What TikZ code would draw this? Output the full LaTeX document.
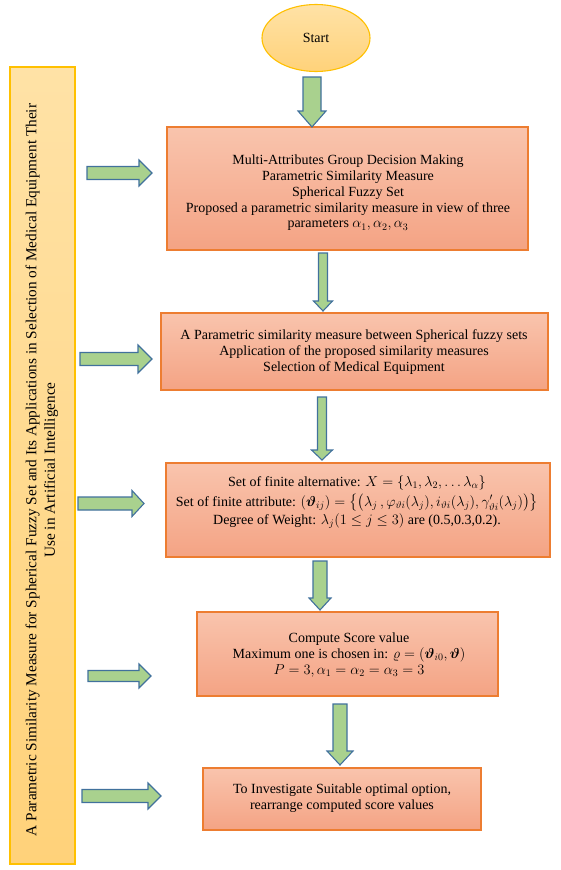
\documentclass[tikz,border=0pt]{standalone}
\usepackage{amsmath,bm}
\usepackage{fontspec}
\setmainfont{Liberation Serif}
\usetikzlibrary{shapes.geometric}
\definecolor{boxtop}{HTML}{F9C4AD}
\definecolor{boxbot}{HTML}{F4A384}
\definecolor{boxline}{HTML}{ED7D31}
\definecolor{arrfill}{HTML}{A9D18E}
\definecolor{arrline}{HTML}{41719C}
\definecolor{goldline}{HTML}{FFC000}
\definecolor{goldtop}{HTML}{FFE2A6}
\definecolor{goldbot}{HTML}{FFD27A}
\newcommand\vblockarrow[6]{% xc, ytop, ybot, shaft half, head half, head len
  \draw[blockarr] (#1-#4,#2) -- (#1+#4,#2) -- (#1+#4,#3-#6) -- (#1+#5,#3-#6) -- (#1,#3)
    -- (#1-#5,#3-#6) -- (#1-#4,#3-#6) -- cycle;}
\newcommand\hblockarrow[6]{% x1, x2, yc, shaft half, head half, head len
  \draw[blockarr] (#1,#3-#4) -- (#2-#6,#3-#4) -- (#2-#6,#3-#5) -- (#2,#3) -- (#2-#6,#3+#5)
    -- (#2-#6,#3+#4) -- (#1,#3+#4) -- cycle;}
\tikzset{
  stepbox/.style={draw=boxline, line width=1.1pt, top color=boxtop, bottom color=boxbot},
  blockarr/.style={draw=arrline, line width=1.1pt, fill=arrfill, line join=miter},
  boxtext/.style={align=center, font=\fontsize{14}{15.8}\selectfont, inner sep=0pt},
}
\begin{document}
\begin{tikzpicture}[x=1pt,y=-1pt]
\useasboundingbox (0,0) rectangle (560,870);
% left bar
\draw[draw=goldline, line width=1.1pt, top color=goldtop, bottom color=goldbot] (10,67) rectangle (75,864);
\node[boxtext, rotate=90, font=\fontsize{15.3}{18.5}\selectfont] (title) at (42,470) {A Parametric Similarity Measure for Spherical Fuzzy Set and Its Applications in Selection of Medical Equipment Their\\Use in Artificial Intelligence};
% start
\node[ellipse, draw=goldline, line width=1.1pt, top color=goldtop, bottom color=goldbot,
      minimum width=108pt, minimum height=67pt, font=\fontsize{14}{15}\selectfont] (start) at (316,38) {Start};
% boxes
\draw[stepbox] (167,127) rectangle (528,250);
\node[boxtext] (t1) at (348,193) {Multi-Attributes Group Decision Making\\Parametric Similarity Measure\\Spherical Fuzzy Set\\Proposed a parametric similarity measure in view of three\\parameters $\alpha_1,\alpha_2,\alpha_3$};
\draw[stepbox] (161,313) rectangle (548,390);
\node[boxtext] (t2) at (354,352) {A Parametric similarity measure between Spherical fuzzy sets\\Application of the proposed similarity measures\\Selection of Medical Equipment};
\draw[stepbox] (166,463) rectangle (550,557);
\node[boxtext, anchor=base] (t3a) at (357,486) {Set of finite alternative: $X=\{\lambda_1,\lambda_2,\dots\lambda_\alpha\}$};
\node[boxtext, anchor=base] (t3b) at (357,506) {Set of finite attribute: $(\bm{\vartheta}_{ij})=\bigl\{\bigl(\lambda_j\,,\varphi_{\vartheta i}(\lambda_j),i_{\vartheta i}(\lambda_j),\gamma'_{\vartheta i}(\lambda_j)\bigr)\bigr\}$};
\node[boxtext, anchor=base] (t3c) at (357,524) {Degree of Weight: $\lambda_j(1\le j\le 3)$ are (0.5,0.3,0.2).};
\draw[stepbox] (197,612) rectangle (498,696);
\node[boxtext] (t4) at (349,655) {Compute Score value\\Maximum one is chosen in: $\varrho=(\bm{\vartheta}_{i0},\bm{\vartheta})$\\$P=3,\alpha_1=\alpha_2=\alpha_3=3$};
\draw[stepbox] (203,768) rectangle (481,830);
\node[boxtext] (t5) at (342,798) {To Investigate Suitable optimal option,\\rearrange computed score values};
% down arrows
\vblockarrow{312}{77}{127}{9}{14}{16}
\vblockarrow{323}{253}{311}{4.5}{9.5}{10}
\vblockarrow{322}{397}{460}{4.5}{10.5}{10}
\vblockarrow{320}{561}{610}{7}{11}{12}
\vblockarrow{340}{704}{765}{7}{13}{14}
% right arrows
\hblockarrow{87}{152}{173}{6.5}{13}{13}
\hblockarrow{80}{152}{359}{6.5}{14}{14}
\hblockarrow{78}{144}{503.5}{6.5}{13}{12}
\hblockarrow{88}{151}{676}{5.5}{12}{12}
\hblockarrow{82}{161}{796}{6.5}{13}{13}
\end{tikzpicture}
\end{document}
